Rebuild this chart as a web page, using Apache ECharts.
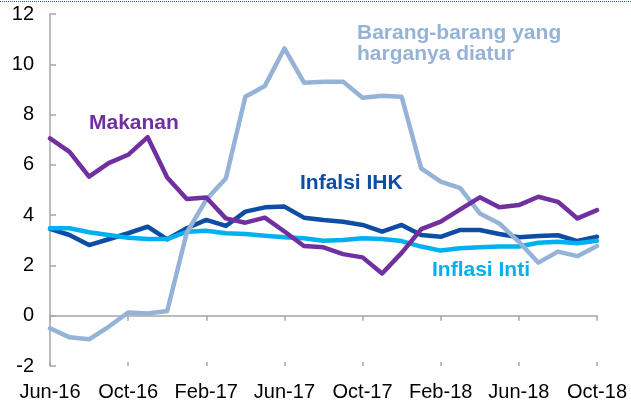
<!DOCTYPE html>
<html>
<head>
<meta charset="utf-8">
<script src="https://cdn.jsdelivr.net/npm/echarts@6/dist/echarts.min.js"></script>
<style>
  html, body { margin: 0; padding: 0; background: #fff; }
  #chart { width: 631px; height: 408px; }
</style>
</head>
<body>
<div id="chart"></div>
<script>
// months Jun-16 .. Oct-18
var months = ['Jun-16','Jul-16','Aug-16','Sep-16','Oct-16','Nov-16','Dec-16',
  'Jan-17','Feb-17','Mar-17','Apr-17','May-17','Jun-17','Jul-17','Aug-17','Sep-17','Oct-17','Nov-17','Dec-17',
  'Jan-18','Feb-18','Mar-18','Apr-18','May-18','Jun-18','Jul-18','Aug-18','Sep-18','Oct-18'];

var ihk = [3.45, 3.21, 2.81, 3.04, 3.28, 3.54, 3.04, 3.48, 3.81, 3.57, 4.14, 4.31, 4.34,
  3.90, 3.81, 3.74, 3.61, 3.34, 3.61, 3.21, 3.14, 3.41, 3.41, 3.25, 3.12, 3.17, 3.20, 2.97, 3.14];
var inti = [3.48, 3.48, 3.32, 3.21, 3.10, 3.05, 3.05, 3.34, 3.38, 3.28, 3.25, 3.18, 3.12,
  3.08, 2.98, 3.01, 3.08, 3.05, 2.97, 2.75, 2.59, 2.68, 2.72, 2.75, 2.75, 2.90, 2.94, 2.88, 2.98];
var diatur = [-0.50, -0.86, -0.94, -0.44, 0.13, 0.09, 0.19, 3.30, 4.62, 5.46, 8.71, 9.14, 10.63,
  9.27, 9.31, 9.31, 8.67, 8.75, 8.71, 5.86, 5.33, 5.07, 4.07, 3.67, 2.94, 2.11, 2.55, 2.37, 2.77];
var makanan = [7.05, 6.52, 5.53, 6.07, 6.40, 7.10, 5.50, 4.64, 4.70, 3.87, 3.70, 3.90, 3.35,
  2.77, 2.72, 2.45, 2.32, 1.68, 2.50, 3.44, 3.74, 4.23, 4.71, 4.31, 4.40, 4.73, 4.53, 3.87, 4.20];

var yTicks = { min: -2, max: 12, step: 2 };

var FONT = '"Liberation Sans", Arial, sans-serif';
var GRAY = '#A6A6A6';
var C_IHK = '#0E4DA4', C_INTI = '#00B0F0', C_DIATUR = '#95B3D7', C_MAKANAN = '#7030A0';

var chart = echarts.init(document.getElementById('chart'));

function lineSeries(name, data, color) {
  return {
    name: name, type: 'line', data: data, symbol: 'none', smooth: false,
    xAxisIndex: 0,
    lineStyle: { color: color, width: 4.5, cap: 'round', join: 'round' }
  };
}

function label(text, x, y, color) {
  return {
    type: 'text', left: x, top: y,
    style: { text: text, fill: color, font: 'bold 21px ' + FONT }
  };
}

var tickStyle = { color: GRAY, width: 1.5 };

chart.setOption({
  animation: false,
  grid: { left: 50, right: 34, top: 14, bottom: 42, containLabel: false, outerBoundsMode: 'none' },
  xAxis: [{
    // zero line with outward ticks
    type: 'category', data: months, boundaryGap: false,
    axisLine: { onZero: true, lineStyle: { color: GRAY, width: 1.5 } },
    axisTick: { show: true, interval: 3, length: 5, lineStyle: tickStyle },
    axisLabel: { show: false },
    splitLine: { show: false }
  }, {
    // month labels along the bottom
    type: 'category', data: months, boundaryGap: false, position: 'bottom',
    axisLine: { show: false, onZero: false },
    axisTick: { show: false },
    axisLabel: { interval: 3, margin: 16, color: '#000', fontFamily: FONT, fontSize: 20 },
    splitLine: { show: false }
  }, {
    // inward half of the crossing ticks
    type: 'category', data: months, boundaryGap: false, position: 'bottom',
    axisLine: { show: false, onZero: true },
    axisTick: { show: true, inside: true, interval: 3, length: 4, lineStyle: tickStyle },
    axisLabel: { show: false },
    splitLine: { show: false }
  }],
  yAxis: {
    type: 'value', min: yTicks.min, max: yTicks.max, interval: yTicks.step,
    axisLine: { show: true, lineStyle: { color: GRAY, width: 1.5 } },
    axisTick: { show: true, inside: true, length: 6, lineStyle: tickStyle },
    axisLabel: { color: '#000', fontFamily: FONT, fontSize: 20, margin: 16 },
    splitLine: { show: false }
  },
  series: [
    lineSeries('Infalsi IHK', ihk, C_IHK),
    lineSeries('Inflasi Inti', inti, C_INTI),
    lineSeries('Barang-barang yang harganya diatur', diatur, C_DIATUR),
    lineSeries('Makanan', makanan, C_MAKANAN)
  ],
  graphic: [
    {
      type: 'line', shape: { x1: 0, y1: 1.5, x2: 631, y2: 1.5 },
      style: { stroke: '#2F5597', lineWidth: 1, lineDash: [1, 1] }
    },
    label('Makanan', 89, 113, C_MAKANAN),
    label('Barang-barang yang', 357, 23, C_DIATUR),
    label('harganya diatur', 357, 44, C_DIATUR),
    label('Infalsi IHK', 300, 173, C_IHK),
    label('Inflasi Inti', 432, 260, C_INTI)
  ]
});
</script>
</body>
</html>
